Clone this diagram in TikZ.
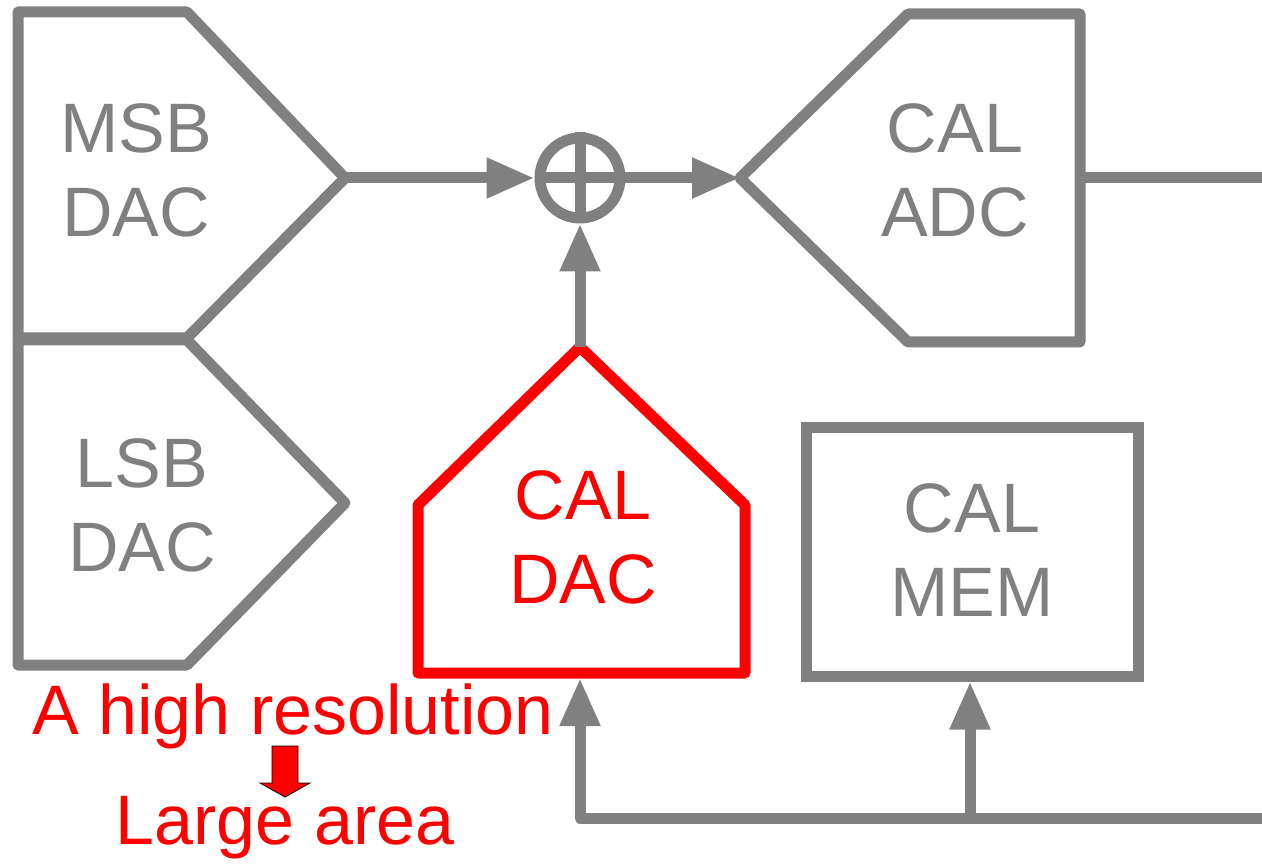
\documentclass[tikz,border=0pt]{standalone}
\usepackage{fontspec}
\setmainfont{Liberation Sans}
\usetikzlibrary{arrows.meta}
\begin{document}
\begin{tikzpicture}[x=1pt,y=-1pt,
  wire/.style={draw=gray,line width=11pt,line join=round},
  redwire/.style={draw=red,line width=11pt,line join=round},
  arr/.style={wire,-{Triangle[length=48pt,width=38pt]}},
  lbl/.style={text=gray,align=center,font=\fontsize{70}{84}\selectfont,inner sep=0pt},
  rlbl/.style={text=red,align=center,font=\fontsize{70}{84}\selectfont,inner sep=0pt}]
\useasboundingbox (0,0) rectangle (1262,866);
% MSB DAC
\draw[wire] (18,12) -- (187,12) -- (345,178) -- (187,338) -- (18,338) -- cycle;
\coordinate (msbtip) at (345,178);
\node[lbl] (msb) at (136,170) {MSB\\DAC};
% LSB DAC
\draw[wire] (18,340) -- (187,340) -- (345,503) -- (187,665) -- (18,665) -- cycle;
\node[lbl] (lsb) at (142,505) {LSB\\DAC};
% sum
\node[circle,draw=gray,line width=11pt,minimum size=80pt,inner sep=0pt] (sum) at (580,178) {};
\draw[wire] (sum.north) -- (sum.south) (sum.west) -- (sum.east);
% CAL ADC
\draw[wire] (740,178) -- (908,14) -- (1080,14) -- (1080,342) -- (908,342) -- cycle;
\coordinate (adctip) at (740,178);
\coordinate (adcout) at (1080,178);
\coordinate (outR) at (1262,178);
\node[lbl] (adc) at (955,170) {CAL\\ADC};
% CAL DAC
\draw[redwire] (418,505) -- (580,347) -- (745,505) -- (745,673) -- (418,673) -- cycle;
\coordinate (caldactop) at (580,347);
\coordinate (caldacbot) at (580,678);
\node[rlbl] (caldac) at (583,537) {CAL\\DAC};
% CAL MEM
\node[draw=gray,line width=11pt,minimum width=332pt,minimum height=248pt,inner sep=0pt] (mem) at (972,552) {};
\node[lbl] (memtxt) at (972,550) {CAL\\MEM};
% connectors
\draw[arr] (msbtip) -- (sum.west);
\draw[arr] (sum.east) -- (adctip);
\draw[wire] (adcout) -- (outR);
\draw[arr] (caldactop) -- (sum.south);
\coordinate (busR) at (1262,818);
\coordinate (busL) at (580,818);
\coordinate (busM) at (970,818);
\draw[arr] (busR) -- (busL) -- (caldacbot);
\draw[arr] (busM) -- (mem.south -| busM);
% red notes
\node[rlbl] (note1) at (293,716) {A high resolution};
\draw[draw=black,line width=0.8pt,fill=red] (272,746) -- (298,746) -- (298,783) -- (310,783) -- (285,797) -- (260,783) -- (272,783) -- cycle;
\node[rlbl] (note2) at (285,828) {Large area};
\end{tikzpicture}
\end{document}
